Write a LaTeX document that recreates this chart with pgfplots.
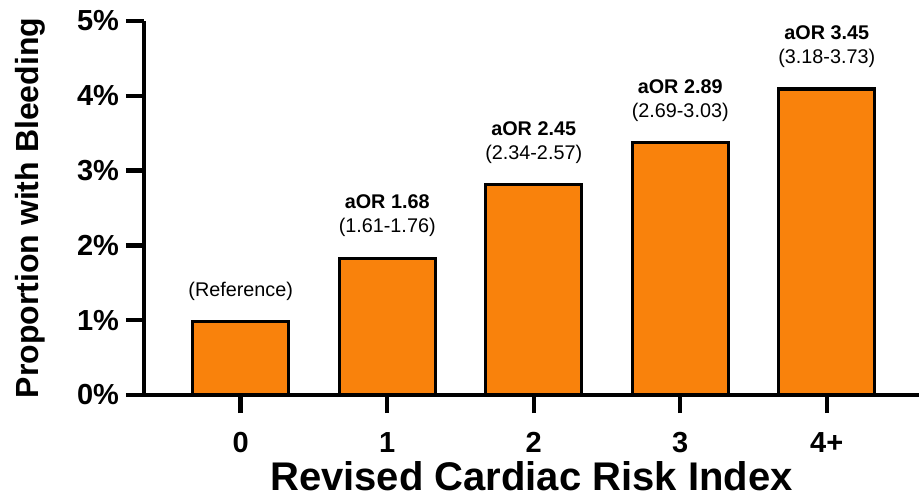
\documentclass[border=0pt]{standalone}
\usepackage{pgfplots}
\pgfplotsset{compat=1.18}
\usepackage{fontspec}
\setmainfont{Liberation Sans}
\definecolor{barorange}{RGB}{249,130,12}
\begin{document}
\begin{tikzpicture}
\useasboundingbox (-72pt,-51.5pt) rectangle (387.5pt,197.5pt);
\begin{axis}[
  scale only axis,
  width=387.5pt, height=187pt,
  xmin=-0.66, xmax=4.63,
  ymin=0, ymax=5,
  axis x line*=bottom, axis y line*=left,
  axis line style={-, line width=2.2pt},
  tick align=outside,
  major tick length=9pt,
  tick style={line width=2.2pt, black},
  xtick={0,1,2,3,4},
  xticklabels={0,1,2,3,4+},
  ytick={0,1,2,3,4,5},
  yticklabels={0\%,1\%,2\%,3\%,4\%,5\%},
  ticklabel style={font=\fontsize{14.5}{16}\selectfont\bfseries},
  xticklabel style={yshift=-6pt},
  xlabel={Revised Cardiac Risk Index},
  ylabel={Proportion with Bleeding},
  xlabel style={font=\fontsize{20}{22}\selectfont\bfseries, at={(axis description cs:0.5,0)}, anchor=center, yshift=-40.5pt},
  ylabel style={font=\fontsize{16}{18}\selectfont\bfseries, at={(axis description cs:0,0.5)}, anchor=center, yshift=57pt},
  clip=false,
]
\addplot[ybar, bar width=48pt, fill=barorange, draw=black, line width=1.6pt]
  coordinates {(0,0.98) (1,1.83) (2,2.81) (3,3.38) (4,4.09)};
\node[anchor=south, font=\fontsize{9.9}{12}\selectfont] at (axis cs:0,0.98) [yshift=7pt] {(Reference)};
\node[anchor=south, align=center, font=\fontsize{9.9}{12}\selectfont] at (axis cs:1,1.83) [yshift=7pt] {\textbf{aOR 1.68}\\(1.61-1.76)};
\node[anchor=south, align=center, font=\fontsize{9.9}{12}\selectfont] at (axis cs:2,2.81) [yshift=7pt] {\textbf{aOR 2.45}\\(2.34-2.57)};
\node[anchor=south, align=center, font=\fontsize{9.9}{12}\selectfont] at (axis cs:3,3.38) [yshift=7pt] {\textbf{aOR 2.89}\\(2.69-3.03)};
\node[anchor=south, align=center, font=\fontsize{9.9}{12}\selectfont] at (axis cs:4,4.09) [yshift=7pt] {\textbf{aOR 3.45}\\(3.18-3.73)};
\end{axis}
\end{tikzpicture}
\end{document}
